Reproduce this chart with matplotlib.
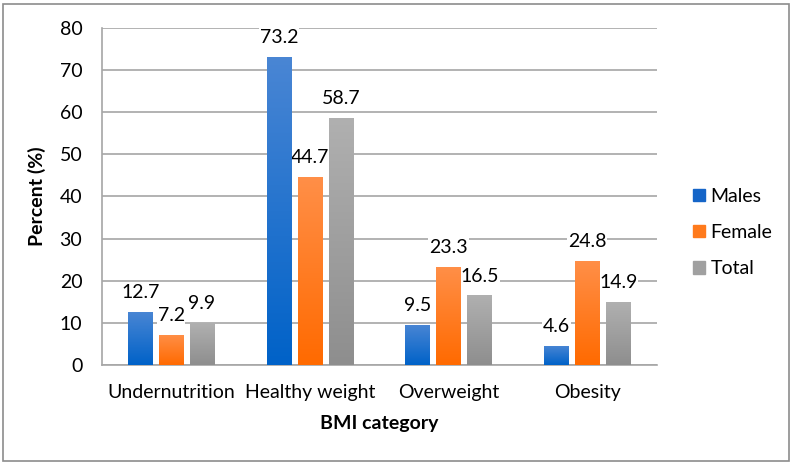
import numpy as np
import matplotlib.pyplot as plt
from matplotlib.colors import LinearSegmentedColormap
from matplotlib.patches import Rectangle

plt.rcParams['font.family'] = ['Lato', 'DejaVu Sans']

categories = ['Undernutrition', 'Healthy weight', 'Overweight', 'Obesity']
males = [12.7, 73.2, 9.5, 4.6]
female = [7.2, 44.7, 23.3, 24.8]
total = [9.9, 58.7, 16.5, 14.9]

series = [('Males', males, '#4a86d4', '#0062c8', '#1565c8'),
          ('Female', female, '#ff8f48', '#ff6a00', '#ff7a1c'),
          ('Total', total, '#b0b0b0', '#8e8e8e', '#a0a0a0')]

fs = 14

fig = plt.figure(figsize=(7.95, 4.65), dpi=100)
ax = fig.add_axes([0.128, 0.215, 0.698, 0.725])

x = np.arange(len(categories))
w = 0.177
step = 0.223

for i, (name, vals, top_c, bot_c, leg_c) in enumerate(series):
    offs = (i - 1) * step
    bars = ax.bar(x + offs, vals, w, color='none', edgecolor='none', zorder=3)
    cmap = LinearSegmentedColormap.from_list(name, [bot_c, top_c])
    grad = np.linspace(0, 1, 256).reshape(-1, 1)
    for b, v in zip(bars, vals):
        im = ax.imshow(grad, cmap=cmap, aspect='auto', origin='lower',
                       extent=[b.get_x(), b.get_x() + b.get_width(), 0, v], zorder=3)
        im.set_clip_path(Rectangle((b.get_x(), 0), b.get_width(), v, transform=ax.transData))
        # label sits under the bars so its white box never hides a neighbour
        ax.text(b.get_x() + b.get_width() / 2, v + 2.6, f'{v:.1f}', ha='center', va='bottom',
                fontsize=fs, color='black', zorder=2.5,
                bbox=dict(facecolor='white', edgecolor='none', pad=0.5))

# legend handles
handles = [Rectangle((0, 0), 1, 1, color=s[4]) for s in series]
fig.legend(handles, [s[0] for s in series], loc='center left',
           bbox_to_anchor=(0.85, 0.50), frameon=False, fontsize=fs,
           handlelength=0.6, handleheight=0.6, handletextpad=0.3, labelspacing=1.0)

ax.set_xlim(-0.5, 3.5)
ax.set_ylim(0, 80)
ax.set_yticks(np.arange(0, 81, 10))
ax.set_xticks(x)
ax.set_xticklabels(categories, fontsize=fs)
ax.tick_params(axis='y', labelsize=fs, length=0, pad=14)
ax.tick_params(axis='x', length=0, pad=14)
ax.yaxis.grid(True, color='#a6a6a6', linewidth=1.2, zorder=0)
ax.set_axisbelow(True)
for s in ['top', 'right']:
    ax.spines[s].set_visible(False)
ax.spines['left'].set_color('#a6a6a6')
ax.spines['bottom'].set_color('#a6a6a6')
ax.spines['left'].set_linewidth(1.2)
ax.spines['bottom'].set_linewidth(1.2)

ax.set_ylabel('Percent (%)', fontsize=fs, fontweight='bold', labelpad=10)
ax.set_xlabel('BMI category', fontsize=fs, fontweight='bold', labelpad=10)

fig.patches.append(Rectangle((0.004, 0.009), 0.989, 0.983, transform=fig.transFigure,
                             fill=False, edgecolor='#8c8c8c', linewidth=1.2))

fig.savefig('out.png', dpi=100)
